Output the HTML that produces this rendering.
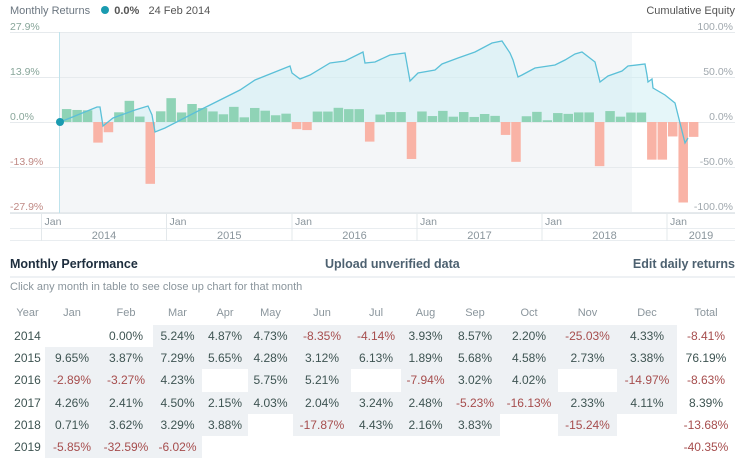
<!DOCTYPE html>
<html><head><meta charset="utf-8"><style>
body{margin:0;width:750px;height:469px;background:#fff;font-family:"Liberation Sans",sans-serif;overflow:hidden;position:relative}
.a{position:absolute;white-space:nowrap}
.c{position:absolute;height:22px;line-height:22px;text-align:center;font-size:12px;color:#3e5452}
.n{color:#a64d4d}
.bg{background:#eef1f4}
.h{position:absolute;top:304px;height:18px;line-height:18px;text-align:center;font-size:11px;color:#8a959c}
</style></head><body>
<svg id="s" width="750" height="245" style="position:absolute;left:0;top:0" font-family="Liberation Sans, sans-serif"></svg>
<div class="a" style="left:10px;top:5px;font-size:11px;color:#6b7680">Monthly Returns <span style="display:inline-block;width:8px;height:8px;border-radius:50%;background:#1a9bb0;margin:0 2px 0 8px"></span> <b style="color:#555;font-weight:bold">0.0%</b> &nbsp;&nbsp;<span style="color:#555">24 Feb 2014</span></div>
<div class="a" style="right:15px;top:5px;font-size:11px;color:#555">Cumulative Equity</div>
<div class="a" style="left:10px;top:257px;font-size:12.5px;font-weight:bold;color:#1d2d3d">Monthly Performance</div>
<div class="a" style="left:325px;top:257px;font-size:12.5px;font-weight:bold;color:#4d6170">Upload unverified data</div>
<div class="a" style="right:15px;top:257px;font-size:12.5px;font-weight:bold;color:#4d6170">Edit daily returns</div>
<div class="a" style="left:10px;top:276px;width:725px;height:2px;background:#eef1f4"></div>
<div class="a" style="left:10px;top:281px;font-size:11px;color:#8a959c">Click any month in table to see close up chart for that month</div>
<div id="t"></div>
<script>
var s=document.getElementById('s'),h='';
function L(x1,y1,x2,y2,c){h+='<line x1="'+x1+'" y1="'+y1+'" x2="'+x2+'" y2="'+y2+'" stroke="'+c+'" stroke-width="1"/>';}
function T(x,y,t,c,a,sz){h+='<text x="'+x+'" y="'+y+'" fill="'+c+'" font-size="'+(sz||10.5)+'" text-anchor="'+(a||'start')+'">'+t+'</text>';}
h+='<rect x="60" y="32" width="572" height="181" fill="#f4f6f8"/>';
[32,77,122,167,212].forEach(function(y){L(10,y+.5,735,y+.5,'#e6eaed');});
var vals=[null,0,5.24,4.87,4.73,-8.35,-4.14,3.93,8.57,2.2,-25.03,4.33,
9.65,3.87,7.29,5.65,4.28,3.12,6.13,1.89,5.68,4.58,2.73,3.38,
-2.89,-3.27,4.23,4.23,5.75,5.21,5.21,-7.94,3.02,4.02,4.02,-14.97,
4.26,2.41,4.5,2.15,4.03,2.04,3.24,2.48,-5.23,-16.13,2.33,4.11,
0.71,3.62,3.29,3.88,3.88,-17.87,4.43,2.16,3.83,3.83,-15.24,-15.24,
-5.85,-32.59,-6.02];
var pts=[[60,122],[75,116],[97,107],[100,107],[103,126],[113,118],[135,110],[148,106],[152,115],[155,132],[165,128],[200,110],[240,90],[255,80],[290,66],[292,73],[300,79],[310,75],[330,63],[345,61],[363,52],[365,63],[375,62],[390,55],[405,53],[410,81],[418,73],[435,70],[442,64],[458,58],[475,52],[492,43],[502,41],[510,53],[513,60],[518,77],[522,75],[535,68],[555,65],[565,60],[575,54],[582,52],[595,62],[600,82],[608,76],[622,71],[628,66],[645,64],[647,75],[648,82],[652,79],[653,88],[665,95],[675,103],[685,143],[688,138]];
var p=pts.map(function(q){return q.join(',')}).join(' ');
h+='<polygon points="'+p+' 688,122 60,122" fill="#cfeef4" fill-opacity="0.55"/>';
for(var m=0;m<vals.length;m++){var v=vals[m];if(v===null||v===0)continue;var x=40.5+10.45*m,ht=Math.abs(v)*2.47;
h+='<rect x="'+(x+.5)+'" y="'+(v>0?122-ht:122)+'" width="9.5" height="'+ht+'" fill="'+(v>0?'#8fd3b6':'#f9b3a6')+'"/>';}
h+='<polyline points="'+p+'" fill="none" stroke="#5bc0d8" stroke-width="1.3"/>';
L(59.5,32,59.5,213,'#bfe3ec');
h+='<circle cx="60" cy="122" r="4" fill="#1a9bb0"/>';
T(10,30,'27.9%','#88a69a');T(10,75,'13.9%','#88a69a');T(10,120,'0.0%','#88a69a');T(10,165,'-13.9%','#c08a85');T(10,210,'-27.9%','#c08a85');
T(733,30,'100.0%','#a0a8ae','end');T(733,75,'50.0%','#a0a8ae','end');T(733,120,'0.0%','#a0a8ae','end');T(733,165,'-50.0%','#a0a8ae','end');T(733,210,'-100.0%','#a0a8ae','end');
L(10,213.5,735,213.5,'#e3e8eb');L(10,228.5,735,228.5,'#e9edf0');L(10,240.5,735,240.5,'#e9edf0');
var xs=[41.5,166.5,292,417,542,667];
xs.forEach(function(x,i){L(x,213,x,241,'#e3e8eb');T(x+3,225,'Jan','#8a959c','start',10.5);
var nx=i<5?xs[i+1]:735;T((x+nx)/2,239,String(2014+i),'#8a959c','middle',11);});
s.innerHTML=h;
var e=[10,45,99,153,202,248,293,351,401,450,500,558,617,677,735];
var hd=['Year','Jan','Feb','Mar','Apr','May','Jun','Jul','Aug','Sep','Oct','Nov','Dec','Total'];
var rows=[
['2014','','0.00%','5.24%','4.87%','4.73%','-8.35%','-4.14%','3.93%','8.57%','2.20%','-25.03%','4.33%','-8.41%'],
['2015','9.65%','3.87%','7.29%','5.65%','4.28%','3.12%','6.13%','1.89%','5.68%','4.58%','2.73%','3.38%','76.19%'],
['2016','-2.89%','-3.27%','4.23%','','5.75%','5.21%','','-7.94%','3.02%','4.02%','','-14.97%','-8.63%'],
['2017','4.26%','2.41%','4.50%','2.15%','4.03%','2.04%','3.24%','2.48%','-5.23%','-16.13%','2.33%','4.11%','8.39%'],
['2018','0.71%','3.62%','3.29%','3.88%','','-17.87%','4.43%','2.16%','3.83%','','-15.24%','','-13.68%'],
['2019','-5.85%','-32.59%','-6.02%','','','','','','','','','','-40.35%']];
var g='';
hd.forEach(function(t,i){g+='<div class="h" style="left:'+e[i]+'px;width:'+(e[i+1]-e[i])+'px">'+t+'</div>';});
rows.forEach(function(r,ri){var y=325+ri*22.2;r.forEach(function(t,i){
var bg=(i>0&&i<13&&t!==''&&!(ri==0&&i==2))?' bg':'';
g+='<div class="c'+bg+(t.charAt(0)=='-'?' n':'')+'" style="left:'+e[i]+'px;width:'+(e[i+1]-e[i])+'px;top:'+y+'px;height:22.2px">'+t+'</div>';});});
document.getElementById('t').innerHTML=g;
</script>
</body></html>
